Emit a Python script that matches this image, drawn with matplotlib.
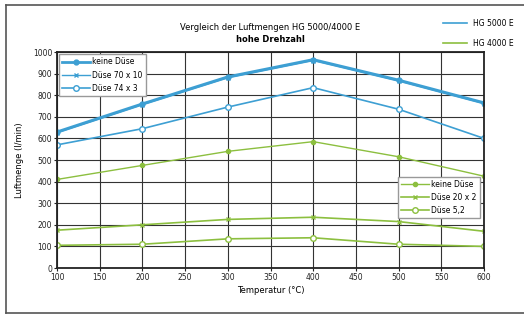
import matplotlib.pyplot as plt
from matplotlib.lines import Line2D

BLUE = "#3d9fd3"
GREEN = "#8cbf3f"

temps = [100, 200, 300, 400, 500, 600]

hg5000_keine = [630, 760, 885, 965, 870, 765]
hg5000_70x10 = [625, 755, 880, 960, 865, 760]
hg5000_74x3 = [570, 645, 745, 835, 735, 600]

hg4000_keine = [410, 475, 540, 585, 515, 425]
hg4000_20x2 = [175, 200, 225, 235, 215, 170]
hg4000_52 = [105, 110, 135, 140, 110, 100]

plt.rcParams.update({"font.family": "DejaVu Sans", "font.size": 5.5})

fig = plt.figure(figsize=(5.24, 3.16), dpi=100)
fig.patch.set_facecolor("white")
# outer frame: left, top, bottom only (right edge is cut off)
frame = dict(transform=fig.transFigure, color="#555555", linewidth=1.2)
fig.add_artist(Line2D([6 / 524, 6 / 524], [3 / 316, 1 - 5 / 316], **frame))
fig.add_artist(Line2D([6 / 524, 1.0], [1 - 5 / 316, 1 - 5 / 316], **frame))
fig.add_artist(Line2D([6 / 524, 1.0], [3 / 316, 3 / 316], **frame))

ax = fig.add_axes([57 / 524, 48 / 316, 427 / 524, 216 / 316])
ax.set_xlim(100, 600)
ax.set_ylim(0, 1000)
ax.set_xticks(range(100, 601, 50))
ax.set_yticks(range(0, 1001, 100))
ax.grid(True, color="#333333", linewidth=0.8)
ax.set_axisbelow(True)
for s in ax.spines.values():
    s.set_linewidth(1.3)
    s.set_color("#222222")
ax.tick_params(length=2, width=0.8, pad=1.5, labelsize=5.5, colors="#222222")

l1, = ax.plot(temps, hg5000_keine, color=BLUE, lw=2.0, marker="o", ms=3.5, label="keine Düse")
l2, = ax.plot(temps, hg5000_70x10, color=BLUE, lw=1.0, marker="x", ms=3.5, mew=1.0, label="Düse 70 x 10")
l3, = ax.plot(temps, hg5000_74x3, color=BLUE, lw=1.2, marker="o", ms=4, mfc="white", label="Düse 74 x 3")

g1, = ax.plot(temps, hg4000_keine, color=GREEN, lw=1.0, marker="o", ms=3, label="keine Düse")
g2, = ax.plot(temps, hg4000_20x2, color=GREEN, lw=1.2, marker="x", ms=3.5, mew=1.0, label="Düse 20 x 2")
g3, = ax.plot(temps, hg4000_52, color=GREEN, lw=1.2, marker="o", ms=4, mfc="white", label="Düse 5,2")

leg_kw = dict(fontsize=5.5, fancybox=False, edgecolor="#999999", framealpha=1, borderpad=0.4,
              handlelength=3.6, labelspacing=0.55, handletextpad=0.3, borderaxespad=0.3)
leg1 = ax.legend(handles=[l1, l2, l3], loc="upper left", bbox_to_anchor=(0.0, 1.0), **leg_kw)
ax.add_artist(leg1)
ax.legend(handles=[g1, g2, g3], loc="lower right", bbox_to_anchor=(0.995, 0.22), **leg_kw)

ax.set_xlabel("Temperatur (°C)", fontsize=6, labelpad=3)
ax.set_ylabel("Luftmenge (l/min)", fontsize=6, labelpad=6)

fig.text(270 / 524, 1 - 28 / 316, "Vergleich der Luftmengen HG 5000/4000 E", ha="center", va="center", fontsize=6)
fig.text(270 / 524, 1 - 40 / 316, "hohe Drehzahl", ha="center", va="center", fontsize=6, fontweight="bold")

fig.legend(handles=[Line2D([], [], color=BLUE, lw=1.2), Line2D([], [], color=GREEN, lw=1.2)],
           labels=["HG 5000 E", "HG 4000 E"], loc="upper left", bbox_to_anchor=(436 / 524, 1 - 12 / 316),
           frameon=False, fontsize=5.5, handlelength=3.2, labelspacing=1.4, handletextpad=0.8)

fig.savefig("out.png", dpi=100)
